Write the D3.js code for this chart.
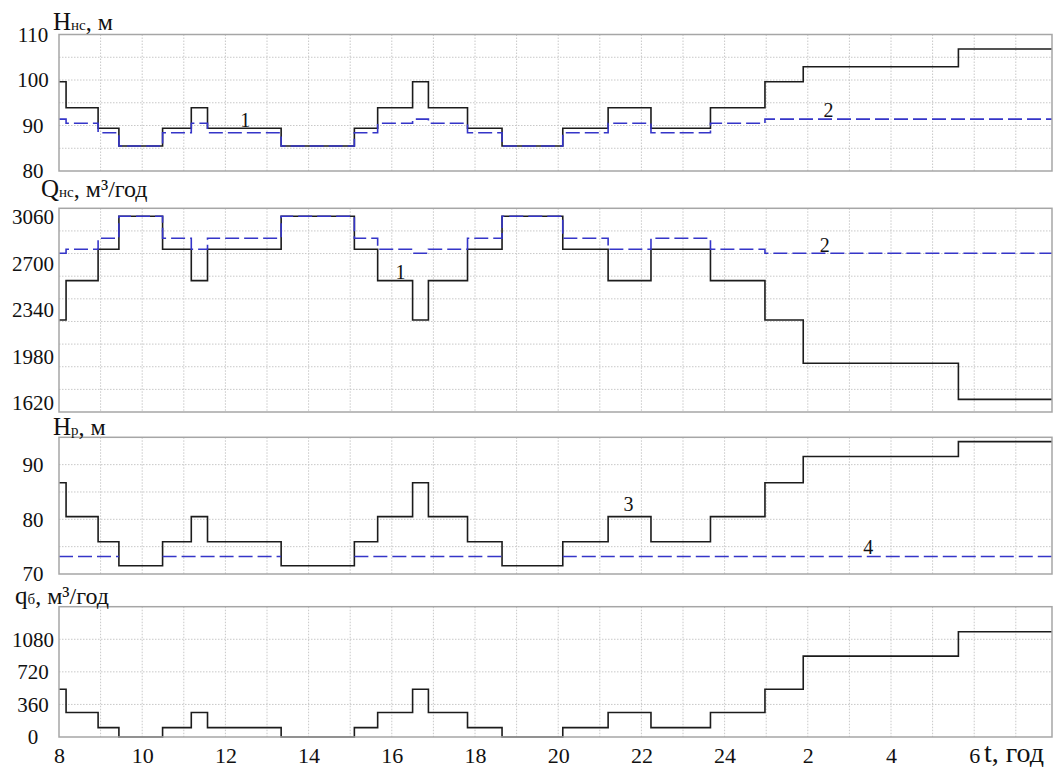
<!DOCTYPE html>
<html>
<head>
<meta charset="utf-8">
<script src="https://cdn.jsdelivr.net/npm/d3@7/dist/d3.min.js"></script>
<style>
  body { margin: 0; background: #fff; }
  text { fill: #111; }
</style>
</head>
<body>
<svg id="chart"></svg>
<script>
// segment boundaries, hours (8..24, then 2,4,6 of the next day = 26,28,30)
const times = [8, 8.17, 8.94, 9.44, 10.49, 11.18, 11.57, 13.34, 15.1, 15.66, 16.5,
  16.88, 17.82, 18.65, 20.11, 21.2, 22.23, 23.66, 24.97, 25.89, 29.62, 31.87];

// Hнс, м : 1 - calculated, 2 - required
const hnsCalc = [99.6, 93.9, 89.4, 85.5, 89.4, 93.9, 89.4, 85.5, 89.4, 93.9, 99.6,
  93.9, 89.4, 85.5, 89.4, 93.9, 89.4, 93.9, 99.6, 102.9, 106.8];
const hnsReq = [91.4, 90.5, 88.4, 85.5, 88.4, 90.5, 88.4, 85.5, 88.4, 90.5, 91.4,
  90.5, 88.4, 85.5, 88.4, 90.5, 88.4, 90.5, 91.4, 91.4, 91.4];

// Qнс, м3/год
const qnsCalc = [2262, 2567, 2810, 3065, 2810, 2567, 2810, 3065, 2810, 2567, 2262,
  2567, 2810, 3065, 2810, 2567, 2810, 2567, 2262, 1927, 1648];
const qnsReq = [2779, 2810, 2895, 3065, 2895, 2810, 2895, 3065, 2895, 2810, 2779,
  2810, 2895, 3065, 2895, 2810, 2895, 2810, 2779, 2779, 2779];

// Hр, м : 3 - calculated, 4 - required (gaps where it drops under line 3)
const hpCalc = [86.7, 80.5, 75.9, 71.5, 75.9, 80.5, 75.9, 71.5, 75.9, 80.5, 86.7,
  80.5, 75.9, 71.5, 75.9, 80.5, 75.9, 80.5, 86.7, 91.5, 94.2];
const hpReq = [73.2, 73.2, 73.2, null, 73.2, 73.2, 73.2, null, 73.2, 73.2, 73.2,
  73.2, 73.2, null, 73.2, 73.2, 73.2, 73.2, 73.2, 73.2, 73.2];

// qб, м3/год
const qb = [528, 270, 104, 0, 104, 270, 104, 0, 104, 270, 528,
  270, 104, 0, 104, 270, 104, 270, 528, 894, 1163];

// tick labels
const xTicks = [8, 10, 12, 14, 16, 18, 20, 22, 24, 26, 28, 30];
const hnsTicks = [80, 90, 100, 110];
const qnsTicks = [1620, 1980, 2340, 2700, 3060];
const hpTicks = [70, 80, 90];
const qbTicks = [0, 360, 720, 1080];

// constants
const width = 1062;
const height = 767;
const left = 59;
const right = 1052;
const black = '#1c1c1c';
const blue = '#3535c8';
const serif = 'Liberation Serif, DejaVu Serif, serif';

const svg = d3.select('#chart')
  .attr('width', width)
  .attr('height', height)
  .style('font-family', serif);

const x = d3.scaleLinear().domain([8, 31.87]).range([left, right]);

const panels = [
  { top: 34.5, bottom: 171, domain: [80, 110], ticks: hnsTicks, grid: 6,
    title: [['H', 25], ['нс', 15], [', м', 24]], tx: 53, ty: 30,
    lines: [hnsCalc, hnsReq],
    notes: [[12.48, 89.4, '1'], [26.5, 91.6, '2']] },
  { top: 208.3, bottom: 412, domain: [1550, 3127], ticks: qnsTicks, grid: 9,
    title: [['Q', 25], ['нс', 15], [', м³/год', 24]], tx: 41, ty: 197,
    lines: [qnsCalc, qnsReq],
    notes: [[16.21, 2572, '1'], [26.41, 2779, '2']] },
  { top: 437.3, bottom: 574, domain: [70, 95], ticks: hpTicks, grid: 5,
    title: [['H', 25], ['р', 15], [', м', 24]], tx: 53, ty: 435,
    lines: [hpCalc, hpReq],
    notes: [[21.69, 81.4, '3'], [27.45, 73.5, '4']] },
  { top: 606.7, bottom: 737, domain: [0, 1440], ticks: qbTicks, grid: 4,
    title: [['q', 25], ['б', 15], [', м³/год', 24]], tx: 15, ty: 604,
    lines: [qb],
    notes: [] }
];

// turn segment values into step points
function steps(vals) {
  const pts = [];
  vals.forEach((v, i) => {
    pts.push([times[i], v], [times[i + 1], v]);
  });
  return pts;
}

panels.forEach(p => {
  const y = d3.scaleLinear().domain(p.domain).range([p.bottom, p.top]);
  const g = svg.append('g');

  // grid: every hour vertically, even intervals horizontally
  g.selectAll('.vgrid')
    .data(d3.range(9, 32))
    .enter().append('line')
    .attr('x1', d => x(d)).attr('x2', d => x(d))
    .attr('y1', p.top).attr('y2', p.bottom)
    .attr('stroke', '#c8c8c8').attr('stroke-width', 1)
    .attr('stroke-dasharray', '1.5,1.5');

  const span = p.domain[1] - p.domain[0];
  g.selectAll('.hgrid')
    .data(d3.range(1, p.grid).map(i => p.domain[0] + i * span / p.grid))
    .enter().append('line')
    .attr('x1', left).attr('x2', right)
    .attr('y1', d => y(d)).attr('y2', d => y(d))
    .attr('stroke', '#c8c8c8').attr('stroke-width', 1)
    .attr('stroke-dasharray', '1.5,1.5');

  // data lines
  const line = d3.line()
    .defined(d => d[1] != null)
    .x(d => x(d[0]))
    .y(d => y(d[1]));

  p.lines.forEach((vals, i) => {
    g.append('path')
      .datum(steps(vals))
      .attr('d', line)
      .attr('fill', 'none')
      .attr('stroke', i === 0 ? black : blue)
      .attr('stroke-width', 1.6)
      .attr('stroke-dasharray', i === 0 ? null : '14,5');
  });

  // frame
  g.append('rect')
    .attr('x', left).attr('y', p.top)
    .attr('width', right - left).attr('height', p.bottom - p.top)
    .attr('fill', 'none').attr('stroke', '#a6a6a6').attr('stroke-width', 1.5);

  // y axis labels
  const ax = g.append('g')
    .attr('transform', 'translate(' + left + ',0)')
    .call(d3.axisLeft(y).tickValues(p.ticks).tickSize(0).tickFormat(d3.format('d')));
  ax.select('.domain').remove();
  ax.selectAll('text')
    .attr('x', 33 - left)
    .attr('text-anchor', 'middle')
    .attr('fill', '#111')
    .style('font-family', serif)
    .style('font-size', '21px');

  // title
  const t = g.append('text').attr('x', p.tx).attr('y', p.ty)
    .style('font-family', serif);
  p.title.forEach(part => {
    t.append('tspan').text(part[0]).style('font-size', part[1] + 'px');
  });

  // curve numbers
  g.selectAll('.note')
    .data(p.notes)
    .enter().append('text')
    .attr('x', d => x(d[0]))
    .attr('y', d => y(d[1]) - 1)
    .attr('text-anchor', 'middle')
    .style('font-family', serif)
    .style('font-size', '20px')
    .text(d => d[2]);
});

// x axis under the last panel
const xAxis = svg.append('g')
  .attr('transform', 'translate(0,737)')
  .call(d3.axisBottom(x).tickValues(xTicks).tickSize(0).tickPadding(10)
    .tickFormat(d => d > 24 ? d - 24 : d));
xAxis.select('.domain').remove();
xAxis.selectAll('text')
  .attr('fill', '#111')
  .style('font-family', serif)
  .style('font-size', '22px');

svg.append('text')
  .attr('x', 984).attr('y', 762)
  .style('font-family', serif)
  .style('font-size', '28px')
  .text('t, год');
</script>
</body>
</html>
